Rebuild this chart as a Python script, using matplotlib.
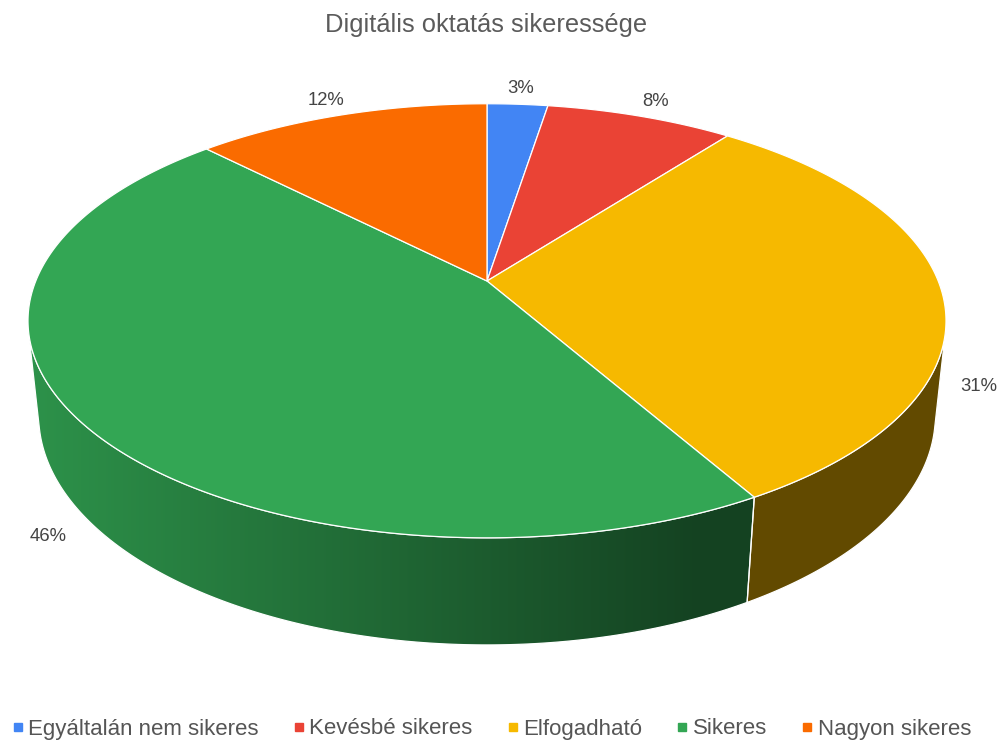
import numpy as np
import matplotlib
matplotlib.use('Agg')
import matplotlib.pyplot as plt
from matplotlib.patches import Polygon
from matplotlib.lines import Line2D
from matplotlib.colors import to_rgb

# ---------------- data ----------------
categories = ['Egyáltalán nem sikeres', 'Kevésbé sikeres', 'Elfogadható', 'Sikeres', 'Nagyon sikeres']
values = [2.55, 7.9, 31.25, 45.9, 12.4]
colors = ['#4285F4', '#EA4335', '#F6B900', '#33A654', '#FA6B00']
title = 'Digitális oktatás sikeressége'

plt.rcParams['font.family'] = ['Liberation Sans', 'DejaVu Sans']

W, H = 999, 744
fig = plt.figure(figsize=(W / 100, H / 100), dpi=100)
ax = fig.add_axes([0, 0, 1, 1])
ax.set_xlim(0, W)
ax.set_ylim(H, 0)
ax.axis('off')

# ---------------- 3D perspective camera ----------------
phi = np.radians(27.7)
Dcam = 4.83
depth = 0.24
sp, cp = np.sin(phi), np.cos(phi)
C = np.array([0.0, -Dcam * cp, Dcam * sp])
fv = np.array([0.0, cp, -sp])
rv = np.array([1.0, 0.0, 0.0])
uv = np.array([0.0, sp, cp])


def proj_raw(x, y, z):
    Q = np.stack([np.asarray(x, float) - C[0], np.asarray(y, float) - C[1],
                  np.asarray(z, float) - C[2]], axis=-1)
    qf = Q @ fv
    return (Q @ rv) / qf, (Q @ uv) / qf


tt = np.linspace(0, 2 * np.pi, 4000)
xr, yr = proj_raw(np.cos(tt), np.sin(tt), np.zeros_like(tt))
scale = 918.0 / (xr.max() - xr.min())
CX, CY = 487.0, 281.0


def proj(x, y, z):
    a, b = proj_raw(x, y, z)
    return CX + scale * a, CY - scale * b


def arc(t0, t1, z, r=1.0, n=None):
    if n is None:
        n = max(3, int(abs(t1 - t0) / np.radians(0.5)) + 2)
    t = np.linspace(t0, t1, n)
    px, py = proj(r * np.cos(t), r * np.sin(t), np.full_like(t, z))
    return np.column_stack([px, py])


vals = np.array(values, float)
frac = vals / vals.sum()
cum = np.concatenate([[0], np.cumsum(frac)])
th_start = np.pi / 2 - 2 * np.pi * cum[:-1]
th_end = np.pi / 2 - 2 * np.pi * cum[1:]

# visible part of the outer wall
a0 = np.arcsin(1.0 / (Dcam * cp))
vis_lo, vis_hi = -np.pi + a0, -a0

xs = np.arange(W) + 0.5
shade = np.clip(0.88 - 0.00072 * (xs - 30), 0.40, 1.0)

for i in range(len(values)):
    lo = max(th_end[i], vis_lo)
    hi = min(th_start[i], vis_hi)
    if hi <= lo:
        continue
    top = arc(lo, hi, 0.0)
    bot = arc(hi, lo, -depth)
    pts = np.vstack([top, bot])
    base = np.array(to_rgb(colors[i]))
    img = (base[None, None, :] * shade[None, :, None]).clip(0, 1)
    im = ax.imshow(img, extent=[0, W, H, 0], origin='upper', interpolation='nearest',
                   aspect='auto', zorder=1)
    clip = Polygon(pts, closed=True, facecolor='none', edgecolor='none', transform=ax.transData)
    ax.add_patch(clip)
    im.set_clip_path(clip)
    ax.add_patch(Polygon(pts, closed=True, facecolor='none', edgecolor='white',
                         linewidth=0.9, zorder=2))

ax.set_xlim(0, W)
ax.set_ylim(H, 0)

# top faces
cx0, cy0 = proj(0.0, 0.0, 0.0)
for i in range(len(values)):
    pts = np.vstack([[cx0, cy0], arc(th_start[i], th_end[i], 0.0)])
    ax.add_patch(Polygon(pts, closed=True, facecolor=colors[i], edgecolor='white',
                         linewidth=0.9, joinstyle='round', zorder=3))

# percentage labels
lab_fs = 13.3
for i, v in enumerate(values):
    mid = (th_start[i] + th_end[i]) / 2
    if np.sin(mid) > 0:
        z, rr = 0.0, 1.12
    else:
        z, rr = -0.92 * depth, 1.1
    lx, ly = proj(rr * np.cos(mid), rr * np.sin(mid), z)
    ax.text(lx, ly + 0.36 * lab_fs * 100 / 72, f'{int(v + 0.5)}%', ha='center', va='baseline',
            fontsize=lab_fs, color='#444444', zorder=5)

# title
ax.text(486, 32, title, ha='center', va='baseline', fontsize=18.4, color='#5b5b5b')

# legend
handles = [Line2D([], [], marker='s', linestyle='none', markersize=5.2, color=c) for c in colors]
fig.legend(handles, categories, loc='center', bbox_to_anchor=(492.5 / W, 1 - 729 / H), ncol=5,
           frameon=False, handlelength=0.35, handletextpad=0.3, columnspacing=1.63,
           fontsize=16, borderpad=0, labelcolor='#555555')

fig.savefig('out.png', dpi=100)
